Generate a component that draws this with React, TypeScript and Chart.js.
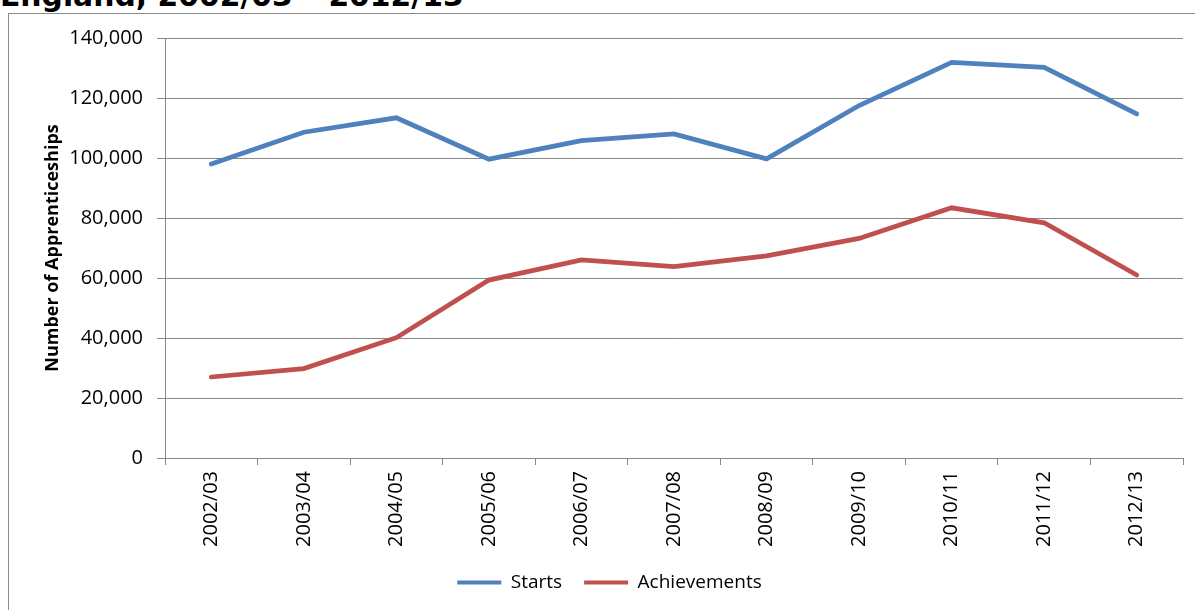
import React, { useEffect, useRef } from "react";
import { Chart, registerables } from "chart.js";

Chart.register(...registerables);

const categories = [
  "2002/03", "2003/04", "2004/05", "2005/06", "2006/07", "2007/08",
  "2008/09", "2009/10", "2010/11", "2011/12", "2012/13",
];
const starts = [98000, 108600, 113400, 99600, 105800, 108000, 99700, 117500, 131900, 130200, 114700];
const achievements = [27000, 29800, 40100, 59300, 66000, 63800, 67400, 73200, 83400, 78400, 61000];
const seriesNames = ["Starts", "Achievements"];
const seriesColors = ["#4F81BD", "#C0504D"];
const yMin = 0;
const yMax = 140000;
const yStep = 20000;
const titleText = "England, 2002/03 \u2013 2012/13";
const yAxisTitle = "Number of Apprenticeships";

const GRID = "#868686";
const FONT = "'Open Sans', 'Noto Sans', sans-serif";

const legendShift = {
  id: "legendShift",
  afterLayout(chart: any) {
    const l = chart.legend;
    if (l) {
      l.left += 18;
      l.right += 18;
    }
  },
};

export default function App() {
  const ref = useRef<HTMLCanvasElement>(null);

  useEffect(() => {
    const chart = new Chart(ref.current!, {
      type: "line",
      data: {
        labels: categories,
        datasets: [starts, achievements].map((d, i) => ({
          label: seriesNames[i],
          data: d,
          borderColor: seriesColors[i],
          backgroundColor: seriesColors[i],
          borderWidth: 4.75,
          pointRadius: 0,
          pointHoverRadius: 0,
          tension: 0,
          fill: false,
          borderCapStyle: "round",
          borderJoinStyle: "miter",
        })),
      },
      options: {
        responsive: false,
        animation: false,
        layout: { padding: { left: 0, right: 12, top: 38, bottom: 8 } },
        plugins: {
          tooltip: { enabled: false },
          legend: {
            position: "bottom",
            labels: {
              boxWidth: 44,
              boxHeight: 4,
              padding: 22,
              color: "#000",
              font: { family: FONT, size: 19 },
              generateLabels: (c: any) =>
                c.data.datasets.map((ds: any, i: number) => ({
                  text: ds.label,
                  fillStyle: ds.borderColor,
                  strokeStyle: ds.borderColor,
                  lineWidth: 0,
                  hidden: false,
                  datasetIndex: i,
                  fontColor: "#000",
                })),
            },
          },
        },
        scales: {
          x: {
            type: "category",
            offset: true,
            afterFit: (s: any) => {
              s.height = 93;
            },
            grid: {
              offset: true,
              drawOnChartArea: false,
              drawTicks: true,
              tickLength: 7,
              color: GRID,
              lineWidth: 1,
            },
            border: { display: true, color: GRID, width: 1 },
            ticks: {
              minRotation: 90,
              maxRotation: 90,
              autoSkip: false,
              padding: 6,
              color: "#000",
              font: { family: FONT, size: 20 },
            },
          },
          y: {
            min: yMin,
            max: yMax,
            afterFit: (s: any) => {
              s.width = 165;
            },
            grid: {
              drawTicks: true,
              tickLength: 8,
              color: GRID,
              lineWidth: 1,
            },
            border: { display: true, color: GRID, width: 1 },
            ticks: {
              stepSize: yStep,
              padding: 14,
              color: "#000",
              font: { family: FONT, size: 20 },
              callback: (v: any) => Number(v).toLocaleString("en-US"),
            },
            title: {
              display: true,
              text: yAxisTitle,
              color: "#000",
              font: { family: FONT, size: 18, weight: "bold" },
              padding: { top: 42, bottom: 0 },
            },
          },
        },
      },
      plugins: [legendShift],
    } as any);
    return () => chart.destroy();
  }, []);

  return (
    <div
      style={{
        position: "fixed",
        left: 0,
        top: 0,
        width: 1195,
        height: 610,
        overflow: "hidden",
        background: "#fff",
      }}
    >
      <div
        style={{
          position: "absolute",
          left: 8,
          top: 13,
          width: 1400,
          height: 800,
          borderLeft: "1px solid #8a8a8a",
          borderTop: "1px solid #8a8a8a",
        }}
      />
      <div
        style={{
          position: "absolute",
          left: 0,
          top: -19,
          fontFamily: "'DejaVu Sans', Verdana, sans-serif",
          fontWeight: "bold",
          fontSize: 29.8,
          lineHeight: 1,
          whiteSpace: "nowrap",
          color: "#000",
        }}
      >
        {titleText}
      </div>
      <canvas
        ref={ref}
        width={1195}
        height={610}
        style={{ position: "absolute", left: 0, top: 0, width: 1195, height: 610 }}
      />
    </div>
  );
}
